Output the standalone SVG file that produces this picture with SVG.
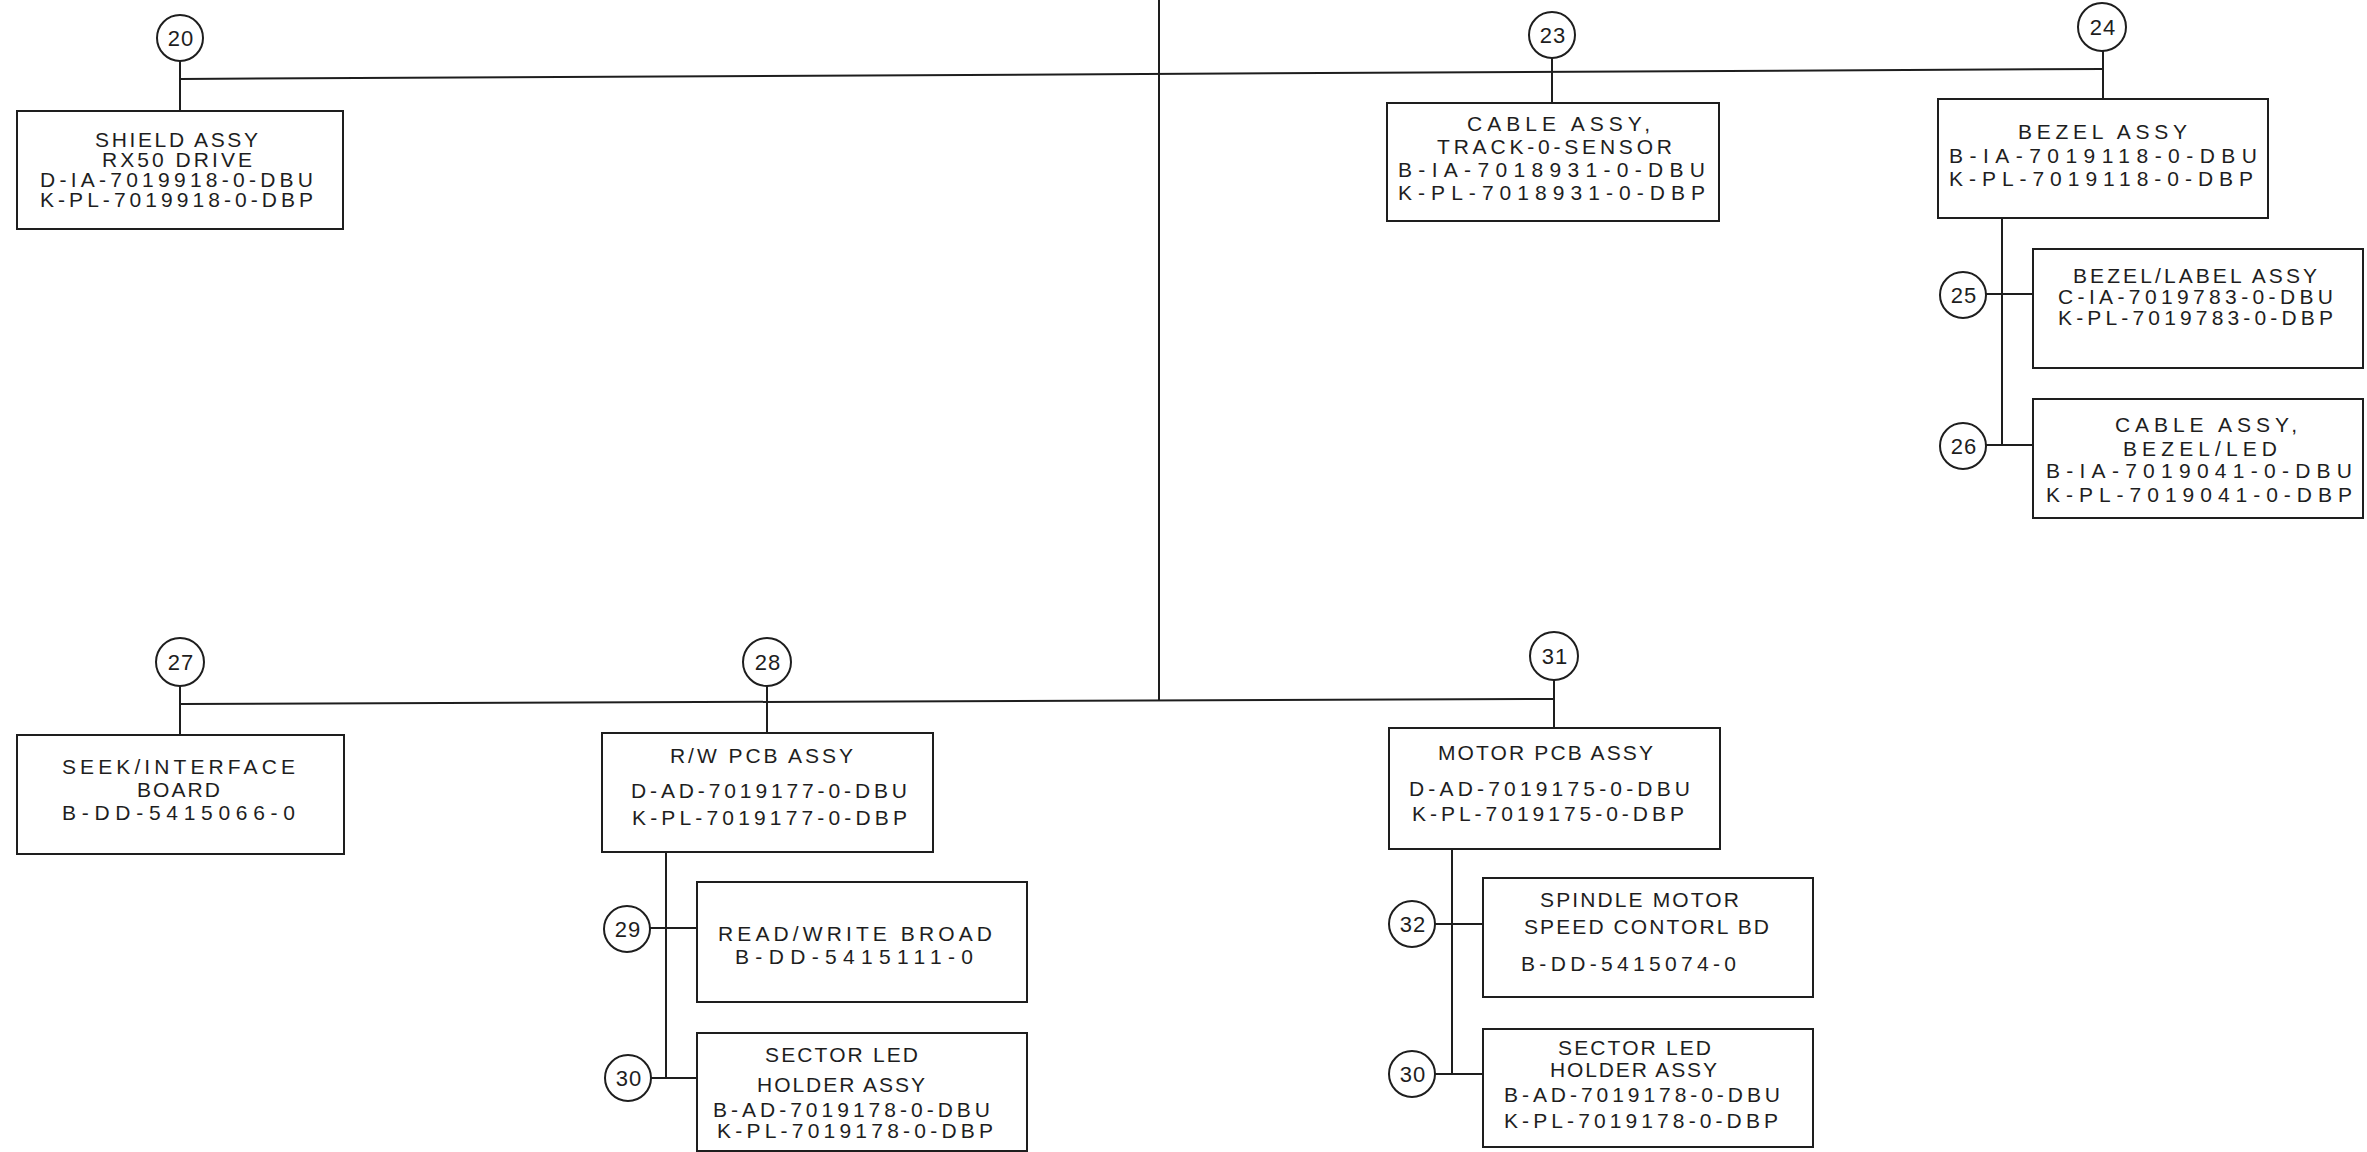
<svg xmlns="http://www.w3.org/2000/svg" width="2367" height="1152" viewBox="0 0 2367 1152">
<style>
.bg{fill:#ffffff}
.box{fill:none;stroke:#1e1e1e;stroke-width:2}
.bub{fill:none;stroke:#1e1e1e;stroke-width:2}
.ln{stroke:#1e1e1e;stroke-width:2;fill:none}
.t{font-family:"Liberation Sans","DejaVu Sans",sans-serif;font-size:21px;fill:#1e1e1e}
.n{font-family:"Liberation Sans","DejaVu Sans",sans-serif;font-size:22px;fill:#1e1e1e;text-anchor:middle;letter-spacing:1px}
</style>
<rect class="bg" x="0" y="0" width="2367" height="1152"/>
<g id="connectors">
<line class="ln" x1="1159" y1="0" x2="1159" y2="701"/>
<line class="ln" x1="180" y1="79" x2="2103" y2="69"/>
<line class="ln" x1="180" y1="61" x2="180" y2="111"/>
<line class="ln" x1="1552" y1="58" x2="1552" y2="103"/>
<line class="ln" x1="2103" y1="51" x2="2103" y2="99"/>
<line class="ln" x1="2002" y1="218" x2="2002" y2="445"/>
<line class="ln" x1="1986" y1="294" x2="2033" y2="294"/>
<line class="ln" x1="1986" y1="445" x2="2033" y2="445"/>
<line class="ln" x1="180" y1="704" x2="1554" y2="699"/>
<line class="ln" x1="180" y1="686" x2="180" y2="735"/>
<line class="ln" x1="767" y1="686" x2="767" y2="733"/>
<line class="ln" x1="1554" y1="680" x2="1554" y2="728"/>
<line class="ln" x1="666" y1="852" x2="666" y2="1078"/>
<line class="ln" x1="650" y1="928" x2="697" y2="928"/>
<line class="ln" x1="651" y1="1078" x2="697" y2="1078"/>
<line class="ln" x1="1452" y1="849" x2="1452" y2="1074"/>
<line class="ln" x1="1435" y1="924" x2="1483" y2="924"/>
<line class="ln" x1="1435" y1="1074" x2="1483" y2="1074"/>
</g>
<g id="n20">
<circle class="bub" cx="180" cy="38" r="23"/>
<text class="n" x="181" y="46">20</text>
<rect class="box" x="17" y="111" width="326" height="118"/>
<text class="t" x="95" y="147" textLength="163" lengthAdjust="spacing">SHIELD ASSY</text>
<text class="t" x="102" y="167" textLength="150" lengthAdjust="spacing">RX50 DRIVE</text>
<text class="t" x="40" y="187" textLength="273" lengthAdjust="spacing">D-IA-7019918-0-DBU</text>
<text class="t" x="40" y="207" textLength="273" lengthAdjust="spacing">K-PL-7019918-0-DBP</text>
</g>
<g id="n23">
<circle class="bub" cx="1552" cy="35" r="23"/>
<text class="n" x="1553" y="43">23</text>
<rect class="box" x="1387" y="103" width="332" height="118"/>
<text class="t" x="1467" y="131" textLength="183" lengthAdjust="spacing">CABLE ASSY,</text>
<text class="t" x="1437" y="154" textLength="235" lengthAdjust="spacing">TRACK-0-SENSOR</text>
<text class="t" x="1398" y="177" textLength="307" lengthAdjust="spacing">B-IA-7018931-0-DBU</text>
<text class="t" x="1398" y="200" textLength="307" lengthAdjust="spacing">K-PL-7018931-0-DBP</text>
</g>
<g id="n24">
<circle class="bub" cx="2102" cy="27" r="24"/>
<text class="n" x="2103" y="35">24</text>
<rect class="box" x="1938" y="99" width="330" height="119"/>
<text class="t" x="2018" y="139" textLength="169" lengthAdjust="spacing">BEZEL ASSY</text>
<text class="t" x="1949" y="163" textLength="308" lengthAdjust="spacing">B-IA-7019118-0-DBU</text>
<text class="t" x="1949" y="186" textLength="304" lengthAdjust="spacing">K-PL-7019118-0-DBP</text>
</g>
<g id="n25">
<circle class="bub" cx="1963" cy="295" r="23"/>
<text class="n" x="1964" y="303">25</text>
<rect class="box" x="2033" y="249" width="330" height="119"/>
<text class="t" x="2073" y="283" textLength="244" lengthAdjust="spacing">BEZEL/LABEL ASSY</text>
<text class="t" x="2058" y="304" textLength="275" lengthAdjust="spacing">C-IA-7019783-0-DBU</text>
<text class="t" x="2058" y="325" textLength="275" lengthAdjust="spacing">K-PL-7019783-0-DBP</text>
</g>
<g id="n26">
<circle class="bub" cx="1963" cy="446" r="23"/>
<text class="n" x="1964" y="454">26</text>
<rect class="box" x="2033" y="399" width="330" height="119"/>
<text class="t" x="2115" y="432" textLength="182" lengthAdjust="spacing">CABLE ASSY,</text>
<text class="t" x="2123" y="456" textLength="154" lengthAdjust="spacing">BEZEL/LED</text>
<text class="t" x="2046" y="478" textLength="306" lengthAdjust="spacing">B-IA-7019041-0-DBU</text>
<text class="t" x="2046" y="502" textLength="306" lengthAdjust="spacing">K-PL-7019041-0-DBP</text>
</g>
<g id="n27">
<circle class="bub" cx="180" cy="662" r="24"/>
<text class="n" x="181" y="670">27</text>
<rect class="box" x="17" y="735" width="327" height="119"/>
<text class="t" x="62" y="774" textLength="233" lengthAdjust="spacing">SEEK/INTERFACE</text>
<text class="t" x="137" y="797" textLength="83" lengthAdjust="spacing">BOARD</text>
<text class="t" x="62" y="820" textLength="233" lengthAdjust="spacing">B-DD-5415066-0</text>
</g>
<g id="n28">
<circle class="bub" cx="767" cy="662" r="24"/>
<text class="n" x="768" y="670">28</text>
<rect class="box" x="602" y="733" width="331" height="119"/>
<text class="t" x="670" y="763" textLength="183" lengthAdjust="spacing">R/W PCB ASSY</text>
<text class="t" x="631" y="798" textLength="276" lengthAdjust="spacing">D-AD-7019177-0-DBU</text>
<text class="t" x="632" y="825" textLength="275" lengthAdjust="spacing">K-PL-7019177-0-DBP</text>
</g>
<g id="n31">
<circle class="bub" cx="1554" cy="656" r="24"/>
<text class="n" x="1555" y="664">31</text>
<rect class="box" x="1389" y="728" width="331" height="121"/>
<text class="t" x="1438" y="760" textLength="215" lengthAdjust="spacing">MOTOR PCB ASSY</text>
<text class="t" x="1409" y="796" textLength="281" lengthAdjust="spacing">D-AD-7019175-0-DBU</text>
<text class="t" x="1412" y="821" textLength="272" lengthAdjust="spacing">K-PL-7019175-0-DBP</text>
</g>
<g id="n29">
<circle class="bub" cx="627" cy="929" r="23"/>
<text class="n" x="628" y="937">29</text>
<rect class="box" x="697" y="882" width="330" height="120"/>
<text class="t" x="718" y="941" textLength="274" lengthAdjust="spacing">READ/WRITE BROAD</text>
<text class="t" x="735" y="964" textLength="238" lengthAdjust="spacing">B-DD-5415111-0</text>
</g>
<g id="n30a">
<circle class="bub" cx="628" cy="1078" r="23"/>
<text class="n" x="629" y="1086">30</text>
<rect class="box" x="697" y="1033" width="330" height="118"/>
<text class="t" x="765" y="1062" textLength="153" lengthAdjust="spacing">SECTOR LED</text>
<text class="t" x="757" y="1092" textLength="168" lengthAdjust="spacing">HOLDER ASSY</text>
<text class="t" x="713" y="1117" textLength="277" lengthAdjust="spacing">B-AD-7019178-0-DBU</text>
<text class="t" x="717" y="1138" textLength="276" lengthAdjust="spacing">K-PL-7019178-0-DBP</text>
</g>
<g id="n32">
<circle class="bub" cx="1412" cy="924" r="23"/>
<text class="n" x="1413" y="932">32</text>
<rect class="box" x="1483" y="878" width="330" height="119"/>
<text class="t" x="1540" y="907" textLength="199" lengthAdjust="spacing">SPINDLE MOTOR</text>
<text class="t" x="1524" y="934" textLength="245" lengthAdjust="spacing">SPEED CONTORL BD</text>
<text class="t" x="1521" y="971" textLength="215" lengthAdjust="spacing">B-DD-5415074-0</text>
</g>
<g id="n30b">
<circle class="bub" cx="1412" cy="1074" r="23"/>
<text class="n" x="1413" y="1082">30</text>
<rect class="box" x="1483" y="1029" width="330" height="118"/>
<text class="t" x="1558" y="1055" textLength="153" lengthAdjust="spacing">SECTOR LED</text>
<text class="t" x="1550" y="1077" textLength="167" lengthAdjust="spacing">HOLDER ASSY</text>
<text class="t" x="1504" y="1102" textLength="276" lengthAdjust="spacing">B-AD-7019178-0-DBU</text>
<text class="t" x="1504" y="1128" textLength="274" lengthAdjust="spacing">K-PL-7019178-0-DBP</text>
</g>
</svg>
